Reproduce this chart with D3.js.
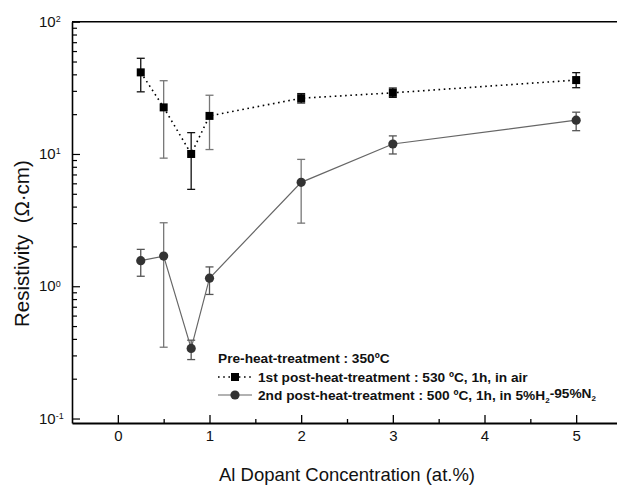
<!DOCTYPE html>
<html>
<head>
<meta charset="utf-8">
<script src="https://cdn.jsdelivr.net/npm/d3@7"></script>
<style>
  body { margin: 0; background: #fff; }
  svg { display: block; font-family: "Liberation Sans", Arial, sans-serif; }
</style>
</head>
<body>
<div id="chart"></div>
<script>
// Al dopant concentration (at.%)
const conc = [0.25, 0.5, 0.8, 1, 2, 3, 5];

// 1st post-heat-treatment (530 C, air): resistivity and error bounds (ohm.cm)
const airRho  = [41.4, 22.5, 10.0, 19.4, 26.4, 29.0, 36.2];
const airLow  = [29.5, 9.3, 5.4, 10.8, 24.3, 26.8, 31.7];
const airHigh = [52.9, 35.8, 14.5, 27.8, 28.6, 31.5, 41.2];

// 2nd post-heat-treatment (500 C, 5%H2-95%N2)
const gasRho  = [1.56, 1.69, 0.339, 1.15, 6.1, 11.9, 18.0];
const gasLow  = [1.19, 0.346, 0.279, 0.867, 3.0, 10.0, 15.0];
const gasHigh = [1.90, 3.02, 0.391, 1.40, 9.1, 13.7, 20.7];

const xTicks = [0, 1, 2, 3, 4, 5];
const yDecades = [-1, 0, 1, 2];

const width = 617, height = 486;
const margin = { top: 21.7, right: -5, bottom: 63, left: 72 };

const svg = d3.select("#chart").append("svg")
  .attr("width", width)
  .attr("height", height);

const x = d3.scaleLinear().domain([-0.5, 5.5]).range([margin.left, width - margin.right]);
const y = d3.scaleLog().domain([0.0925, 100]).range([height - margin.bottom, margin.top]);

// minor ticks
const xMinor = d3.range(-0.5, 5.51, 0.5).filter(d => !xTicks.includes(d) && d > -0.5);
const yMinor = [];
yDecades.slice(0, -1).forEach(e => {
  for (let k = 2; k <= 9; k++) yMinor.push(k * Math.pow(10, e));
});

// x axis
const xAxis = svg.append("g").attr("transform", `translate(0,${height - margin.bottom})`);
xAxis.call(d3.axisBottom(x).tickValues(xTicks).tickSizeInner(-8).tickSizeOuter(0).tickPadding(7).tickFormat(d3.format("d")));
xAxis.append("g").call(d3.axisBottom(x).tickValues(xMinor).tickSize(-4).tickFormat(""))
  .select(".domain").remove();
xAxis.selectAll(".domain").attr("stroke", "#000").attr("stroke-width", 2);
xAxis.selectAll(".tick line").attr("stroke", "#000").attr("stroke-width", 1.3);
xAxis.selectAll(".tick text").attr("font-size", 15).attr("fill", "#111");

// y axis
const yAxis = svg.append("g").attr("transform", `translate(${margin.left},0)`);
yAxis.call(d3.axisLeft(y).tickValues(yDecades.map(e => Math.pow(10, e))).tickSizeInner(-8).tickSizeOuter(0).tickFormat(""));
yAxis.append("g").call(d3.axisLeft(y).tickValues(yMinor).tickSize(-5).tickFormat(""))
  .select(".domain").remove();
yAxis.selectAll(".domain").attr("stroke", "#000").attr("stroke-width", 1.6);
yAxis.selectAll(".tick line").attr("stroke", "#000").attr("stroke-width", 1.2);

// decade labels 10^n
const yLab = svg.append("g").selectAll("text")
  .data(yDecades)
  .join("text")
  .attr("x", 39)
  .attr("y", d => y(Math.pow(10, d)))
  .attr("dy", "0.35em")
  .attr("font-size", 15)
  .attr("fill", "#111");
yLab.append("tspan").text("10");
yLab.append("tspan").attr("dy", "-0.55em").attr("font-size", 9).text(d => d);

// top frame line
svg.append("line")
  .attr("x1", margin.left).attr("x2", width)
  .attr("y1", margin.top).attr("y2", margin.top)
  .attr("stroke", "#000").attr("stroke-width", 1.6);

// axis titles
svg.append("text")
  .attr("x", x(2.5)).attr("y", 481)
  .attr("text-anchor", "middle")
  .attr("font-size", 18.5)
  .attr("fill", "#111")
  .text("Al Dopant Concentration (at.%)");

svg.append("text")
  .attr("transform", `translate(29,${y(2.1)}) rotate(-90)`)
  .attr("text-anchor", "middle")
  .attr("font-size", 20.5)
  .attr("fill", "#111")
  .style("white-space", "pre")
  .text("Resistivity  (\u03A9\u00B7cm)");

const airData = conc.map((c, i) => ({ c, v: airRho[i], lo: airLow[i], hi: airHigh[i] }));
const gasData = conc.map((c, i) => ({ c, v: gasRho[i], lo: gasLow[i], hi: gasHigh[i] }));

const line = d3.line().x(d => x(d.c)).y(d => y(d.v));

// error bars
function errorBars(data, colorFn) {
  const g = svg.append("g");
  const bars = g.selectAll("g").data(data).join("g").attr("stroke", colorFn).attr("stroke-width", 1.3);
  bars.append("line").attr("x1", d => x(d.c)).attr("x2", d => x(d.c)).attr("y1", d => y(d.lo)).attr("y2", d => y(d.hi));
  bars.append("line").attr("x1", d => x(d.c) - 4).attr("x2", d => x(d.c) + 4).attr("y1", d => y(d.lo)).attr("y2", d => y(d.lo));
  bars.append("line").attr("x1", d => x(d.c) - 4).attr("x2", d => x(d.c) + 4).attr("y1", d => y(d.hi)).attr("y2", d => y(d.hi));
}

errorBars(gasData, (d, i) => i === 1 || i === 4 ? "#777" : "#555");
errorBars(airData, (d, i) => i === 1 || i === 3 ? "#777" : "#111");

// 2nd treatment: solid gray line with circles
svg.append("path").datum(gasData)
  .attr("d", line)
  .attr("fill", "none")
  .attr("stroke", "#666")
  .attr("stroke-width", 1.2);
svg.append("g").selectAll("circle").data(gasData).join("circle")
  .attr("cx", d => x(d.c)).attr("cy", d => y(d.v)).attr("r", 4.6)
  .attr("fill", "#333");

// 1st treatment: dotted black line with squares
svg.append("path").datum(airData)
  .attr("d", line)
  .attr("fill", "none")
  .attr("stroke", "#000")
  .attr("stroke-width", 1.6)
  .attr("stroke-dasharray", "1.6,3.6");
svg.append("g").selectAll("rect").data(airData).join("rect")
  .attr("x", d => x(d.c) - 4).attr("y", d => y(d.v) - 4)
  .attr("width", 8).attr("height", 8)
  .attr("fill", "#000");

// legend
const legend = svg.append("g").attr("font-size", 13.7).attr("font-weight", "bold").attr("fill", "#111");
legend.append("text").attr("x", 218).attr("y", 358).attr("dy", "0.35em").text("Pre-heat-treatment : 350\u00BAC");

const row1 = legend.append("g").attr("transform", "translate(0,377)");
row1.append("line").attr("x1", 218).attr("x2", 252).attr("stroke", "#000").attr("stroke-width", 1.6).attr("stroke-dasharray", "1.6,3.6");
row1.append("rect").attr("x", 231).attr("y", -4).attr("width", 8).attr("height", 8).attr("fill", "#000");
row1.append("text").attr("x", 258).attr("dy", "0.35em").text("1st post-heat-treatment : 530 \u00BAC, 1h, in air");

const row2 = legend.append("g").attr("transform", "translate(0,395)");
row2.append("line").attr("x1", 218).attr("x2", 252).attr("stroke", "#666").attr("stroke-width", 1.2);
row2.append("circle").attr("cx", 235).attr("r", 4.6).attr("fill", "#333");
const t2 = row2.append("text").attr("x", 258).attr("dy", "0.35em");
t2.append("tspan").text("2nd post-heat-treatment : 500 \u00BAC, 1h, in 5%H");
t2.append("tspan").attr("font-size", 8).attr("dy", "0.4em").text("2");
t2.append("tspan").attr("dy", "-0.4em").text("-95%N");
t2.append("tspan").attr("font-size", 8).attr("dy", "0.4em").text("2");
</script>
</body>
</html>
